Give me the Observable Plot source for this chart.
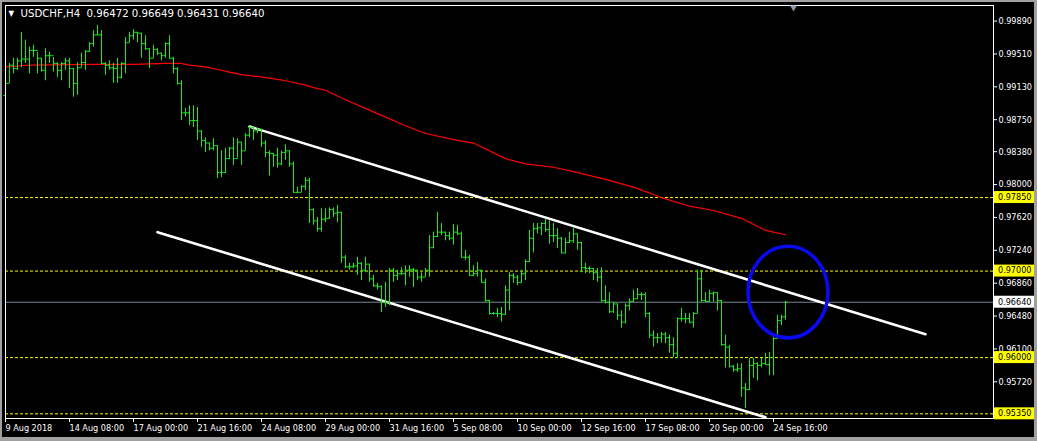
<!DOCTYPE html>
<html><head><meta charset="utf-8">
<script src="https://cdn.jsdelivr.net/npm/d3@7"></script>
<script src="https://cdn.jsdelivr.net/npm/@observablehq/plot@0.6"></script>
<style>
html,body{margin:0;padding:0;background:#000;width:1037px;height:441px;overflow:hidden;}
#wrap{position:relative;width:1037px;height:441px;}
#wrap svg{display:block;}
.edge{position:absolute;background:#a0a0a0;}
</style></head><body><div id="wrap"></div>
<script>
const symbol = "USDCHF,H4";
const lastQuote = ["0.96472", "0.96649", "0.96431", "0.96640"];

const high = [0.9930,0.9940,0.9946,0.9946,0.9976,0.9967,0.9959,0.9961,0.9953,0.9946,
0.9957,0.9953,0.9947,0.9941,0.9941,0.9946,0.9946,0.9934,0.9941,0.9952,
0.9955,0.9964,0.9978,0.9984,0.9978,0.9941,0.9943,0.9940,0.9946,0.9941,
0.9970,0.9976,0.9979,0.9976,0.9975,0.9972,0.9957,0.9961,0.9957,0.9952,
0.9964,0.9972,0.9947,0.9935,0.9920,0.9888,0.9891,0.9891,0.9889,0.9862,
0.9854,0.9848,0.9853,0.9845,0.9839,0.9842,0.9843,0.9854,0.9853,0.9849,
0.9859,0.9867,0.9866,0.9865,0.9864,0.9851,0.9839,0.9836,0.9842,0.9839,
0.9846,0.9839,0.9826,0.9797,0.9799,0.9808,0.9807,0.9772,0.9762,0.9772,
0.9772,0.9773,0.9773,0.9776,0.9768,0.9718,0.9709,0.9709,0.9716,0.9710,
0.9716,0.9708,0.9695,0.9686,0.9683,0.9687,0.9703,0.9703,0.9701,0.9704,
0.9706,0.9706,0.9703,0.9701,0.9698,0.9703,0.9741,0.9745,0.9768,0.9755,
0.9745,0.9745,0.9754,0.9753,0.9745,0.9724,0.9718,0.9706,0.9710,0.9701,
0.9691,0.9666,0.9652,0.9657,0.9658,0.9683,0.9698,0.9697,0.9695,0.9701,
0.9713,0.9747,0.9755,0.9755,0.9756,0.9760,0.9758,0.9755,0.9749,0.9739,
0.9738,0.9745,0.9750,0.9743,0.9733,0.9709,0.9705,0.9703,0.9703,0.9704,
0.9683,0.9675,0.9664,0.9662,0.9654,0.9662,0.9668,0.9678,0.9680,0.9675,
0.9675,0.9652,0.9631,0.9628,0.9629,0.9629,0.9626,0.9623,0.9646,0.9657,
0.9651,0.9651,0.9652,0.9701,0.9701,0.9675,0.9678,0.9676,0.9675,0.9666,
0.9626,0.9614,0.9591,0.9593,0.9593,0.9570,0.9599,0.9599,0.9594,0.9599,
0.9605,0.9606,0.9623,0.9649,0.9649,0.96649];

const low = [0.9895,0.9917,0.9928,0.9932,0.9935,0.9940,0.9928,0.9947,0.9928,0.9930,
0.9920,0.9940,0.9930,0.9924,0.9920,0.9932,0.9911,0.9901,0.9903,0.9935,
0.9932,0.9953,0.9959,0.9972,0.9939,0.9926,0.9932,0.9917,0.9917,0.9922,
0.9928,0.9964,0.9967,0.9964,0.9946,0.9955,0.9934,0.9946,0.9949,0.9943,
0.9946,0.9945,0.9928,0.9915,0.9874,0.9878,0.9868,0.9866,0.9851,0.9843,
0.9837,0.9839,0.9839,0.9807,0.9808,0.9813,0.9829,0.9822,0.9830,0.9822,
0.9839,0.9854,0.9851,0.9859,0.9843,0.9831,0.9810,0.9820,0.9819,0.9822,
0.9828,0.9820,0.9790,0.9790,0.9791,0.9793,0.9755,0.9753,0.9745,0.9745,
0.9756,0.9760,0.9762,0.9756,0.9709,0.9703,0.9701,0.9703,0.9695,0.9689,
0.9698,0.9687,0.9681,0.9678,0.9652,0.9658,0.9660,0.9687,0.9689,0.9695,
0.9683,0.9693,0.9681,0.9689,0.9687,0.9693,0.9693,0.9726,0.9739,0.9741,
0.9735,0.9735,0.9730,0.9741,0.9715,0.9712,0.9694,0.9694,0.9693,0.9686,
0.9664,0.9649,0.9649,0.9646,0.9641,0.9649,0.9654,0.9686,0.9683,0.9686,
0.9689,0.9710,0.9721,0.9743,0.9741,0.9745,0.9731,0.9733,0.9726,0.9720,
0.9720,0.9732,0.9732,0.9724,0.9698,0.9697,0.9697,0.9689,0.9687,0.9664,
0.9662,0.9651,0.9651,0.9643,0.9634,0.9639,0.9654,0.9664,0.9667,0.9666,
0.9646,0.9622,0.9612,0.9616,0.9617,0.9616,0.9605,0.9600,0.9599,0.9641,
0.9639,0.9639,0.9634,0.9651,0.9664,0.9664,0.9664,0.9664,0.9654,0.9613,
0.9588,0.9588,0.9583,0.9583,0.9554,0.9541,0.9562,0.9576,0.9573,0.9588,
0.9591,0.9579,0.9579,0.9622,0.9637,0.96431];

const open = [0.9903,0.9917,0.9938,0.9934,0.9943,0.9945,0.9945,0.9955,0.9955,0.9946,
0.9932,0.9949,0.9949,0.9940,0.9932,0.9940,0.9943,0.9934,0.9917,0.9935,
0.9941,0.9954,0.9963,0.9973,0.9973,0.9940,0.9938,0.9935,0.9934,0.9924,
0.9940,0.9964,0.9972,0.9976,0.9975,0.9963,0.9957,0.9946,0.9956,0.9952,
0.9949,0.9963,0.9946,0.9934,0.9917,0.9883,0.9883,0.9874,0.9874,0.9862,
0.9851,0.9848,0.9842,0.9845,0.9814,0.9814,0.9830,0.9842,0.9830,0.9849,
0.9839,0.9857,0.9866,0.9862,0.9864,0.9848,0.9837,0.9836,0.9834,0.9824,
0.9837,0.9839,0.9824,0.9791,0.9791,0.9798,0.9805,0.9771,0.9758,0.9749,
0.9760,0.9761,0.9771,0.9767,0.9768,0.9716,0.9705,0.9705,0.9706,0.9709,
0.9701,0.9708,0.9691,0.9683,0.9682,0.9664,0.9664,0.9701,0.9695,0.9697,
0.9697,0.9701,0.9702,0.9701,0.9693,0.9693,0.9701,0.9727,0.9740,0.9745,
0.9745,0.9741,0.9738,0.9745,0.9743,0.9716,0.9716,0.9695,0.9697,0.9701,
0.9687,0.9666,0.9651,0.9651,0.9651,0.9650,0.9678,0.9695,0.9693,0.9687,
0.9697,0.9711,0.9738,0.9749,0.9750,0.9755,0.9748,0.9741,0.9741,0.9738,
0.9721,0.9733,0.9735,0.9743,0.9733,0.9704,0.9703,0.9703,0.9698,0.9693,
0.9666,0.9664,0.9653,0.9662,0.9649,0.9641,0.9660,0.9665,0.9668,0.9673,
0.9673,0.9651,0.9626,0.9623,0.9623,0.9627,0.9623,0.9615,0.9605,0.9645,
0.9645,0.9645,0.9641,0.9651,0.9691,0.9666,0.9665,0.9674,0.9675,0.9666,
0.9615,0.9612,0.9590,0.9586,0.9587,0.9565,0.9563,0.9591,0.9593,0.9591,
0.9593,0.9592,0.9600,0.9622,0.9643,0.96472];

const close = [0.9917,0.9938,0.9934,0.9943,0.9945,0.9945,0.9955,0.9955,0.9946,0.9932,
0.9949,0.9949,0.9940,0.9932,0.9940,0.9943,0.9934,0.9917,0.9935,0.9941,
0.9954,0.9963,0.9973,0.9973,0.9940,0.9938,0.9935,0.9934,0.9924,0.9940,
0.9964,0.9972,0.9976,0.9975,0.9963,0.9957,0.9946,0.9956,0.9952,0.9949,
0.9963,0.9946,0.9934,0.9917,0.9883,0.9883,0.9874,0.9874,0.9862,0.9851,
0.9848,0.9842,0.9845,0.9814,0.9814,0.9830,0.9842,0.9830,0.9849,0.9839,
0.9857,0.9866,0.9862,0.9864,0.9848,0.9837,0.9836,0.9834,0.9824,0.9837,
0.9839,0.9824,0.9791,0.9791,0.9798,0.9805,0.9771,0.9758,0.9749,0.9760,
0.9761,0.9771,0.9767,0.9768,0.9716,0.9705,0.9705,0.9706,0.9709,0.9701,
0.9708,0.9691,0.9683,0.9682,0.9664,0.9664,0.9701,0.9695,0.9697,0.9697,
0.9701,0.9702,0.9701,0.9693,0.9693,0.9701,0.9727,0.9740,0.9745,0.9745,
0.9741,0.9738,0.9745,0.9743,0.9716,0.9716,0.9695,0.9697,0.9701,0.9687,
0.9666,0.9651,0.9651,0.9651,0.9650,0.9678,0.9695,0.9693,0.9687,0.9697,
0.9711,0.9738,0.9749,0.9750,0.9755,0.9748,0.9741,0.9741,0.9738,0.9721,
0.9733,0.9735,0.9743,0.9733,0.9704,0.9703,0.9703,0.9698,0.9693,0.9666,
0.9664,0.9653,0.9662,0.9649,0.9641,0.9660,0.9665,0.9668,0.9673,0.9673,
0.9651,0.9626,0.9623,0.9623,0.9627,0.9623,0.9615,0.9605,0.9645,0.9645,
0.9645,0.9641,0.9651,0.9691,0.9666,0.9665,0.9674,0.9675,0.9666,0.9615,
0.9612,0.9590,0.9586,0.9587,0.9565,0.9563,0.9591,0.9593,0.9591,0.9593,
0.9592,0.9600,0.9622,0.9643,0.9647,0.96640];

const timeTicks = [0,16,32,48,64,80,96,112,128,144,160,176,192];
const timeLabels = ["9 Aug 2018","14 Aug 08:00","17 Aug 00:00","21 Aug 16:00","24 Aug 08:00",
  "29 Aug 00:00","31 Aug 16:00","5 Sep 08:00","10 Sep 00:00","12 Sep 16:00",
  "17 Sep 08:00","20 Sep 00:00","24 Sep 16:00"];
const priceTicks = [0.99890,0.99510,0.99130,0.98750,0.98380,0.98000,0.97620,0.97240,0.96860,0.96480,0.96100,0.95720];
const levels = [0.97850,0.97000,0.96000,0.95350];
const bid = 0.96640;

const maBar = [0,6,22,32,40,44,46,50,53,56,59,63,66,70,72,75,77,80,84,92,100,105,113,117,125,130,137,142,150,157,164,171,177,184,190,195];
const maVal = [0.9936,0.9938,0.9939,0.9939,0.9940,0.9940,0.9938,0.9936,0.9933,0.9930,0.9927,0.9925,0.9923,0.9920,0.9918,0.9915,0.9912,0.9909,0.9900,0.9884,0.9868,0.9859,0.9851,0.9848,0.9830,0.9824,0.9820,0.9815,0.9806,0.9797,0.9785,0.9775,0.9770,0.9761,0.9747,0.9742];

const upperBar = [61, 230], upperVal = [0.9867, 0.9627];
const lowerBar = [38, 190], lowerVal = [0.9745, 0.9531];
const ringBar = 195.75, ringPrice = 0.96752, ringHalfBars = 10, ringHalfPrice = 0.0053;
const shiftBar = 197;

const bars = high.map((h, i) => ({i, h, l: low[i], o: open[i], c: close[i]}));
const ma = maBar.map((b, k) => ({b, v: maVal[k]}));
const upper = upperBar.map((b, k) => ({b, v: upperVal[k]}));
const lower = lowerBar.map((b, k) => ({b, v: lowerVal[k]}));
const green = "#12f012";
const FONT = "'DejaVu Sans Condensed','DejaVu Sans',sans-serif";

const chart = Plot.plot({
  width: 1037, height: 441,
  marginLeft: 5, marginRight: 44, marginTop: 5, marginBottom: 23,
  x: {domain: [0, 247]},
  y: {domain: [0.95296, 1.0007]},
  style: {background: "#000", color: "#fff", fontFamily: FONT, fontSize: "9px", fontStretch: "condensed"},
  marks: [
    Plot.ruleY(levels, {stroke: "#ffff00", strokeDasharray: "3,2"}),
    Plot.ruleY([bid], {stroke: "#778899"}),
    Plot.line(ma, {x: "b", y: "v", stroke: "#ff0000", strokeWidth: 1.2}),
    Plot.line(upper, {x: "b", y: "v", stroke: "#fff", strokeWidth: 2.6}),
    Plot.line(lower, {x: "b", y: "v", stroke: "#fff", strokeWidth: 2.6}),
    Plot.ruleX(bars, {x: "i", y1: "l", y2: "h", stroke: green}),
    Plot.link(bars, {x1: d => d.i - 0.5, x2: "i", y1: "o", y2: "o", stroke: green}),
    Plot.link(bars, {x1: "i", x2: d => d.i + 0.5, y1: "c", y2: "c", stroke: green}),
    Plot.frame({stroke: "#fff"}),
    Plot.axisX({ticks: timeTicks, tickFormat: d => timeLabels[timeTicks.indexOf(d)], textAnchor: "start", tickSize: 4, tickPadding: 2, label: null}),
    Plot.axisY({anchor: "right", ticks: priceTicks, tickFormat: d3.format(".5f"), tickSize: 3, tickPadding: 2, label: null}),
    Plot.text([symbol + "  " + lastQuote.join(" ")], {frameAnchor: "top-left", dx: 15, dy: 3, lineAnchor: "top", textAnchor: "start", fill: "#fff", fontSize: 11.3}),
    Plot.text(["▼"], {frameAnchor: "top-left", dx: 3, dy: 5, lineAnchor: "top", textAnchor: "start", fill: "#fff", fontSize: 8}),
    Plot.dot([shiftBar], {x: d => d, frameAnchor: "top", symbol: "triangle", rotate: 180, r: 2.6, fill: "#8a96a6", stroke: "none", dy: 2})
  ]
});

const sx = chart.scale("x"), sy = chart.scale("y");
const svg = d3.select(chart);
const cx = sx.apply(ringBar), cy = sy.apply(ringPrice);
svg.append("ellipse")
  .attr("cx", cx).attr("cy", cy)
  .attr("rx", sx.apply(ringBar + ringHalfBars) - cx)
  .attr("ry", sy.apply(ringPrice - ringHalfPrice) - cy)
  .attr("fill", "none").attr("stroke", "#0a0af0").attr("stroke-width", 3.6);

const tags = levels.map(v => ({v, bg: "#ffff00"})).concat([{v: bid, bg: "#ffffff"}]);
const xr = sx.apply(sx.domain[1]);
const g = svg.append("g");
for (const t of tags) {
  const y = sy.apply(t.v);
  g.append("rect").attr("x", xr + 1).attr("y", y - 6).attr("width", 40).attr("height", 12).attr("fill", t.bg);
  g.append("text").attr("x", xr + 5).attr("y", y).attr("dy", "0.32em")
    .attr("text-anchor", "start")
    .attr("fill", "#000").attr("font-size", "9px").attr("font-family", FONT).attr("font-stretch", "condensed")
    .text(d3.format(".5f")(t.v));
}

const wrap = document.getElementById("wrap");
wrap.appendChild(chart);
for (const [l, t, w, h] of [[0,0,1037,2],[0,0,2,441],[1034,0,3,441],[0,437,1037,4]]) {
  const d = document.createElement("div");
  d.className = "edge";
  Object.assign(d.style, {left: l + "px", top: t + "px", width: w + "px", height: h + "px"});
  wrap.appendChild(d);
}
</script></body></html>
